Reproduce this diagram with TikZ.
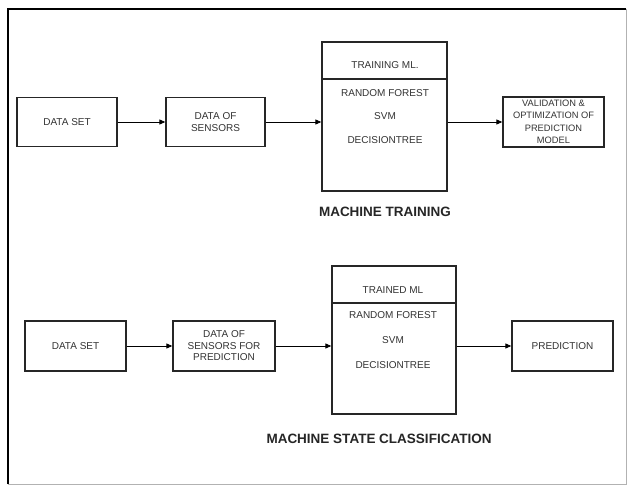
\documentclass[tikz,border=0pt]{standalone}
\usepackage{fontspec}
\setmainfont{Liberation Sans}
\usetikzlibrary{arrows.meta}
\begin{document}
\begin{tikzpicture}[x=1pt,y=-1pt,
  box/.style={draw=black!85,line width=1.3pt,minimum width=#1,inner sep=0pt,align=center,font=\fontsize{10}{11.5}\selectfont,text=black!80},
  box/.default=100pt,
  txt/.style={inner sep=0pt,font=\fontsize{10}{11.5}\selectfont,text=black!80},
  ttl/.style={inner sep=0pt,font=\fontsize{13.5}{16}\selectfont\bfseries,text=black!85},
  arr/.style={draw=black,line width=0.9pt,-{Triangle[length=6pt,width=5pt]}}]
\useasboundingbox (0,0) rectangle (631,486);
\fill[white] (0,0) rectangle (631,486);
% frame
\draw[black!30,line width=0.8pt] (626,9) -- (626,484) -- (8,484);
\draw[black,line width=1.6pt] (8,484) -- (8,9) -- (626,9);
% top row
\node[box=100pt,minimum height=49pt] (ds1) at (67,122) {DATA SET};
\node[box=99pt,minimum height=49pt] (dos1) at (215.5,122) {DATA OF\\SENSORS};
\node[box=125pt,minimum height=149pt] (ml1) at (384.5,116.5) {};
\draw[black!85,line width=1.3pt] (ml1.west |- 0,79) coordinate (d1l) -- (d1l -| ml1.east);
\node[txt] (h1) at (385,65) {TRAINING ML.};
\node[txt] (rf1) at (385,93) {RANDOM FOREST};
\node[txt] (svm1) at (385,116) {SVM};
\node[txt] (dt1) at (385,140) {DECISIONTREE};
\node[box=101pt,minimum height=50pt,font=\fontsize{9.3}{12.5}\selectfont] (val) at (553.5,122) {VALIDATION \&\\OPTIMIZATION OF\\PREDICTION\\MODEL};
\node[ttl] (t1) at (385,212) {MACHINE TRAINING};
\draw[arr] (ds1.east) -- (dos1.west);
\draw[arr] (dos1.east) -- (dos1.east -| ml1.west);
\draw[arr] (val.west -| ml1.east) -- (val.west);
% bottom row
\node[box=101pt,minimum height=50pt] (ds2) at (75.5,346) {DATA SET};
\node[box=102pt,minimum height=50pt] (dos2) at (224,346) {DATA OF\\SENSORS FOR\\PREDICTION};
\node[box=124pt,minimum height=148pt] (ml2) at (394,340) {};
\draw[black!85,line width=1.3pt] (ml2.west |- 0,303) coordinate (d2l) -- (d2l -| ml2.east);
\node[txt] (h2) at (393,290) {TRAINED ML};
\node[txt] (rf2) at (393,315) {RANDOM FOREST};
\node[txt] (svm2) at (393,340) {SVM};
\node[txt] (dt2) at (393,365) {DECISIONTREE};
\node[box=101pt,minimum height=50pt] (pred) at (562.5,346) {PREDICTION};
\node[ttl] (t2) at (379,439) {MACHINE STATE CLASSIFICATION};
\draw[arr] (ds2.east) -- (dos2.west);
\draw[arr] (dos2.east) -- (dos2.east -| ml2.west);
\draw[arr] (pred.west -| ml2.east) -- (pred.west);
\end{tikzpicture}
\end{document}
